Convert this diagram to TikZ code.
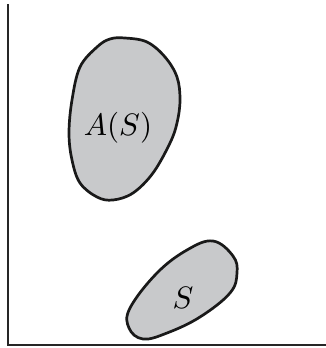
\documentclass[tikz,border=0pt]{standalone}
\definecolor{blobgray}{RGB}{200,201,203}
\tikzset{
  blob/.style={draw=black!90, line width=2.7pt, fill=blobgray},
  axis/.style={draw=black!85, line width=2.2pt},
  lbl/.style={scale=3.1, transform shape}
}
\begin{document}
\begin{tikzpicture}[x=1pt,y=-1pt]
  \useasboundingbox (0,0) rectangle (326,348);
  % axes
  \coordinate (top) at (8,4);
  \coordinate (origin) at (8,345);
  \coordinate (right) at (326,345);
  \draw[axis] (top) -- (origin) -- (right);
  % the set A(S)
  \draw[blob] plot[smooth cycle, tension=0.6] coordinates
    {(125,38) (147,42) (165,57) (177,77) (180,100) (177,123) (170,143) (153,173)
     (133,193) (113,200) (97,197) (80,183) (72,160) (69,133) (72,100) (80,67) (97,47) (110,39)};
  \node[lbl] (AS) at (118,128) {$A(S)$};
  % the set S
  \draw[blob] plot[smooth cycle, tension=0.65] coordinates
    {(213,241) (233,256) (237,273) (230,293) (200,317) (167,333) (143,339) (129,328) (130,308) (157,273) (187,250)};
  \node[lbl] (S) at (183,298) {$S$};
\end{tikzpicture}
\end{document}
